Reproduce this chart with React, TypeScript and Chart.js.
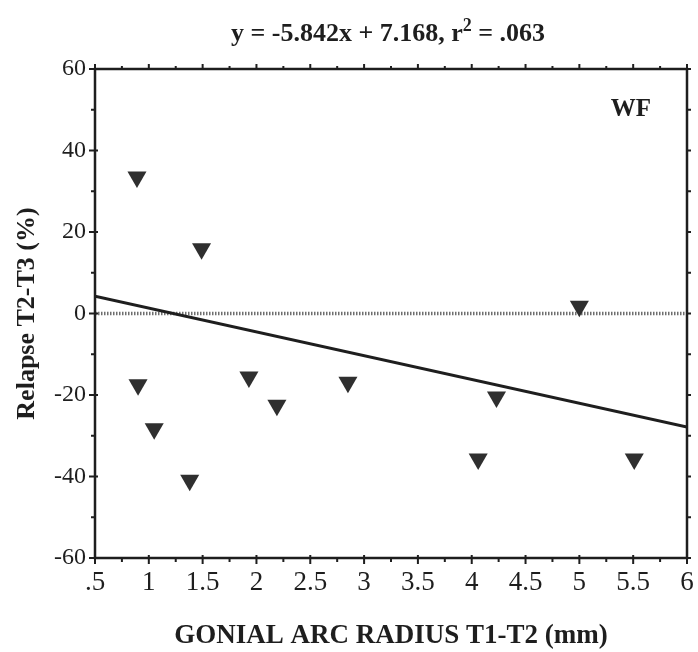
import React, { useEffect, useRef } from 'react';
import { Chart, registerables } from 'chart.js';

Chart.register(...registerables);

// ---- data ----
const xValues = [0.89, 1.49, 0.9, 1.05, 1.38, 1.93, 2.19, 2.85, 4.06, 4.23, 5.0, 5.51];
const yValues = [33.5, 15.9, -17.5, -28.3, -40.9, -15.6, -22.5, -16.9, -35.7, -20.5, 1.8, -35.7];
const xTickValues = [0.5, 1, 1.5, 2, 2.5, 3, 3.5, 4, 4.5, 5, 5.5, 6];
const xTickLabels = ['.5', '1', '1.5', '2', '2.5', '3', '3.5', '4', '4.5', '5', '5.5', '6'];
const yTickValues = [-60, -40, -20, 0, 20, 40, 60];
const yTickLabels = ['-60', '-40', '-20', '0', '20', '40', '60'];
const slope = -5.842;
const intercept = 7.168;
const titleParts = ['y = -5.842x + 7.168, r', '2', ' = .063'];
const groupLabel = 'WF';
const xTitle = 'GONIAL ARC RADIUS T1-T2 (mm)';
const yTitle = 'Relapse T2-T3 (%)';

const SERIF = '"Liberation Serif", "DejaVu Serif", serif';
const INK = '#1e1e1e';

const decorPlugin = {
  id: 'decor',
  afterDraw(chart: any) {
    const { ctx, chartArea } = chart;
    const { left, right, top, bottom } = chartArea;
    const xs = chart.scales.x;
    const ys = chart.scales.y;
    ctx.save();
    // frame
    ctx.strokeStyle = INK;
    ctx.lineWidth = 2.5;
    ctx.strokeRect(left, top, right - left, bottom - top);
    ctx.lineWidth = 2;
    // x ticks (bottom and top) at quarter steps
    const xMin = xTickValues[0];
    const xMax = xTickValues[xTickValues.length - 1];
    for (let i = 0; xMin + i * 0.25 <= xMax + 1e-9; i++) {
      const v = xMin + i * 0.25;
      const px = xs.getPixelForValue(v);
      const major = i % 2 === 0;
      ctx.beginPath();
      ctx.moveTo(px, bottom - (major ? 3 : 0));
      ctx.lineTo(px, bottom + (major ? 6 : 4));
      ctx.moveTo(px, top);
      ctx.lineTo(px, top - (major ? 5 : 3));
      ctx.stroke();
    }
    // y ticks (left and right) at steps of 10
    const yMin = yTickValues[0];
    const yMax = yTickValues[yTickValues.length - 1];
    for (let i = 0; yMin + i * 10 <= yMax + 1e-9; i++) {
      const v = yMin + i * 10;
      const py = ys.getPixelForValue(v);
      const major = i % 2 === 0;
      ctx.beginPath();
      ctx.moveTo(left + (major ? 3 : 0), py);
      ctx.lineTo(left - (major ? 6 : 4), py);
      ctx.moveTo(right, py);
      ctx.lineTo(right + 4, py);
      ctx.stroke();
    }
    // title with superscript
    ctx.fillStyle = INK;
    ctx.textBaseline = 'alphabetic';
    const big = `bold 26px ${SERIF}`;
    const small = `bold 18px ${SERIF}`;
    ctx.font = big;
    const w0 = ctx.measureText(titleParts[0]).width;
    const w2 = ctx.measureText(titleParts[2]).width;
    ctx.font = small;
    const w1 = ctx.measureText(titleParts[1]).width;
    const total = w0 + w1 + w2;
    let tx = 388 - total / 2;
    const ty = 41;
    ctx.textAlign = 'left';
    ctx.font = big;
    ctx.fillText(titleParts[0], tx, ty);
    tx += w0;
    ctx.font = small;
    ctx.fillText(titleParts[1], tx, ty - 10);
    tx += w1;
    ctx.font = big;
    ctx.fillText(titleParts[2], tx, ty);
    // group label
    ctx.font = `bold 25px ${SERIF}`;
    ctx.textAlign = 'center';
    ctx.textBaseline = 'middle';
    ctx.fillText(groupLabel, 631, 110);
    ctx.restore();
  },
};

export default function App() {
  const ref = useRef<HTMLCanvasElement>(null);

  useEffect(() => {
    if (!ref.current) return;
    const x0 = xTickValues[0];
    const x1 = xTickValues[xTickValues.length - 1];
    const chart = new Chart(ref.current, {
      type: 'scatter',
      data: {
        datasets: [
          {
            label: 'points',
            data: xValues.map((x, i) => ({ x, y: yValues[i] })),
            pointStyle: 'triangle',
            rotation: 180,
            pointRadius: 11,
            backgroundColor: '#2f2f2f',
            borderColor: '#2f2f2f',
            borderWidth: 0,
            order: 0,
          },
          {
            label: 'fit',
            type: 'line',
            data: [
              { x: x0, y: slope * x0 + intercept },
              { x: x1, y: slope * x1 + intercept },
            ],
            borderColor: INK,
            borderWidth: 3,
            pointRadius: 0,
            order: 1,
          },
          {
            label: 'zero',
            type: 'line',
            data: [
              { x: x0, y: 0 },
              { x: x1, y: 0 },
            ],
            borderColor: '#6e6e6e',
            borderWidth: 3.5,
            borderDash: [1.5, 1.5],
            pointRadius: 0,
            order: 2,
          },
        ],
      } as any,
      options: {
        animation: false,
        responsive: true,
        maintainAspectRatio: false,
        events: [],
        layout: { padding: { top: 69, right: 9, left: 0, bottom: 0 } },
        plugins: {
          legend: { display: false },
          tooltip: { enabled: false },
          title: { display: false },
        },
        scales: {
          x: {
            type: 'linear',
            min: x0,
            max: x1,
            afterBuildTicks: (s: any) => {
              s.ticks = xTickValues.map((v) => ({ value: v }));
            },
            afterFit: (s: any) => {
              s.height = 94;
            },
            grid: { display: false, drawTicks: true, tickLength: 5 },
            border: { display: false },
            ticks: {
              autoSkip: false,
              maxRotation: 0,
              padding: 4,
              color: INK,
              font: { family: SERIF, size: 27 },
              callback: (_v: any, i: number) => xTickLabels[i],
            },
            title: {
              display: true,
              text: xTitle,
              color: INK,
              font: { family: SERIF, size: 27, weight: 'bold' },
              padding: { top: 0, bottom: 0 },
            },
          },
          y: {
            type: 'linear',
            min: yTickValues[0],
            max: yTickValues[yTickValues.length - 1],
            afterBuildTicks: (s: any) => {
              s.ticks = yTickValues.map((v) => ({ value: v }));
            },
            afterFit: (s: any) => {
              s.width = 95;
            },
            grid: { display: false, drawTicks: true, tickLength: 5 },
            border: { display: false },
            ticks: {
              autoSkip: false,
              padding: 4,
              color: INK,
              font: { family: SERIF, size: 24 },
              callback: (_v: any, i: number) => yTickLabels[i],
            },
            title: {
              display: true,
              text: yTitle,
              color: INK,
              font: { family: SERIF, size: 26, weight: 'bold' },
              padding: { top: 12, bottom: 0 },
            },
          },
        },
      },
      plugins: [decorPlugin],
    });
    return () => chart.destroy();
  }, []);

  return (
    <div style={{ position: 'absolute', left: 0, top: 0, width: 698, height: 652, background: '#fff' }}>
      <canvas ref={ref} />
    </div>
  );
}
